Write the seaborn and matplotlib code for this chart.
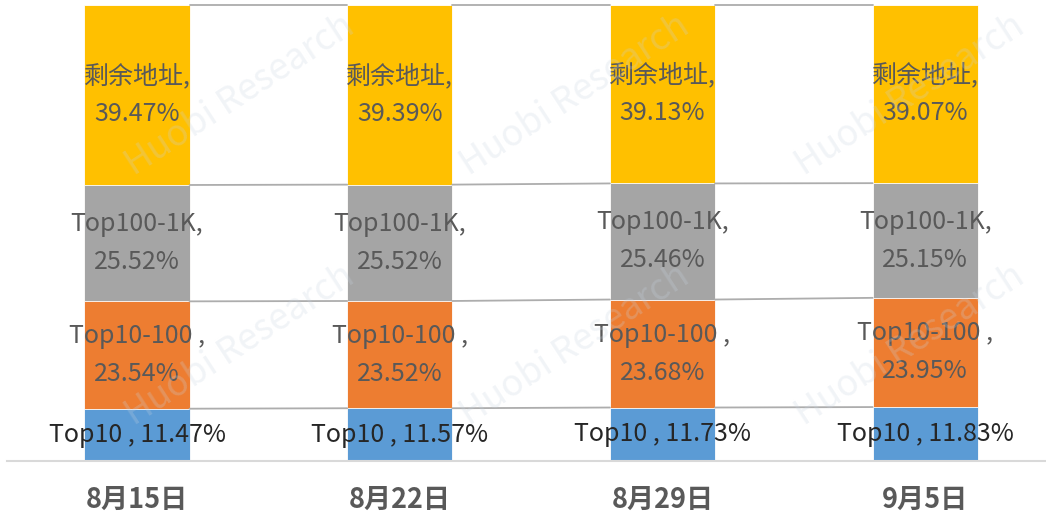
import numpy as np
import pandas as pd
import matplotlib
matplotlib.use("Agg")
import matplotlib.pyplot as plt
import seaborn as sns

sns.set_theme(style="white")
plt.rcParams['font.family'] = ['Noto Sans CJK SC', 'DejaVu Sans']

dates = ['8月15日', '8月22日', '8月29日', '9月5日']
series = ['Top10', 'Top10-100', 'Top100-1K', '剩余地址']
top10 = [11.47, 11.57, 11.73, 11.83]
top10_100 = [23.54, 23.52, 23.68, 23.95]
top100_1k = [25.52, 25.52, 25.46, 25.15]
rest = [39.47, 39.39, 39.13, 39.07]
colors = ['#5B9BD5', '#ED7D31', '#A5A5A5', '#FFC000']
label_fmt = ['Top10 , {:.2f}%', 'Top10-100 ,\n{:.2f}%', 'Top100-1K,\n{:.2f}%', '剩余地址,\n{:.2f}%']
label_colors = ['#262626', '#595959', '#595959', '#595959']

vals = np.array([top10, top10_100, top100_1k, rest])
cum = vals.cumsum(axis=0)

fig = plt.figure(figsize=(10.46, 5.15), dpi=100)
ax = fig.add_axes([7 / 1046, 54 / 515, 1039 / 1046, 456 / 515])

# stacked bars: draw cumulative totals from the top layer down
for k in range(3, -1, -1):
    df = pd.DataFrame({'date': dates, 'value': cum[k]})
    sns.barplot(data=df, x='date', y='value', color=colors[k], width=0.4,
                saturation=1, edgecolor='white', linewidth=0.6, ax=ax)

# series lines between bars
for k in range(4):
    for i in range(3):
        ax.plot([i + 0.2, i + 0.8], [cum[k][i], cum[k][i + 1]], color='#ADADAD',
                lw=1.3, clip_on=False, zorder=1)

# data labels
for k in range(4):
    for i in range(4):
        ax.text(i, cum[k][i] - vals[k][i] / 2, label_fmt[k].format(vals[k][i]),
                ha='center', va='center', fontsize=18, color=label_colors[k],
                fontweight='light', linespacing=1.6, zorder=5)

# watermark
for cx in [240, 575, 910]:
    for cy in [95, 345]:
        fig.text(cx / 1046, 1 - cy / 515, 'Huobi Research', rotation=33,
                 ha='center', va='center', fontsize=26, color='#C8D3E0',
                 alpha=0.25, zorder=10)

ax.set_xlim(-0.495, 3.46)
ax.set_ylim(0, 100)
ax.set_xlabel('')
ax.set_ylabel('')
ax.set_yticks([])
for s in ['top', 'left', 'right']:
    ax.spines[s].set_visible(False)
ax.spines['bottom'].set_color('#D9D9D9')
ax.spines['bottom'].set_linewidth(1.5)
ax.tick_params(axis='x', length=0, pad=18)
for t in ax.get_xticklabels():
    t.set_fontsize(19.5)
    t.set_fontweight('bold')
    t.set_color('#595959')

fig.savefig('out.png', dpi=100)
